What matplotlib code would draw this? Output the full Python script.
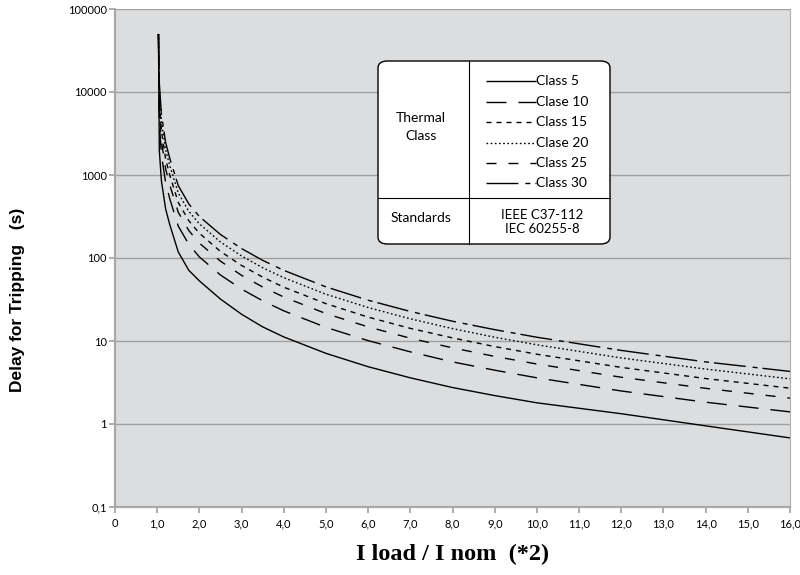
import matplotlib
matplotlib.use('Agg')
import matplotlib.pyplot as plt
from matplotlib.lines import Line2D
from matplotlib.patches import FancyBboxPatch

# load ratio (x axis) and tripping delay per class
current = [1.03, 1.05, 1.1, 1.2, 1.3, 1.5, 1.75, 2, 2.5, 3, 3.5, 4, 5, 6, 7, 8, 9, 10, 12, 14, 16]

class5 = [50000, 2000, 850, 390, 250, 118, 71, 53, 32, 21, 14.8, 11.2, 7.1, 4.9, 3.6, 2.75, 2.2, 1.8, 1.33, 0.95, 0.68]
class10 = [50000, 4250, 1755, 807, 513, 242, 146, 103, 62.4, 42.2, 30.5, 23.1, 14.6, 10.1, 7.4, 5.6, 4.45, 3.6, 2.5, 1.83, 1.4]
class15 = [50000, 6234, 2574, 1183, 753, 355, 214, 151, 91.6, 61.8, 44.7, 33.9, 21.4, 14.8, 10.8, 8.27, 6.52, 5.28, 3.66, 2.69, 2.05]
class20 = [50000, 8190, 3383, 1555, 989, 466, 281, 198.5, 120, 81.3, 58.8, 44.5, 28.2, 19.4, 14.2, 10.9, 8.57, 6.93, 4.81, 3.53, 2.7]
class25 = [50000, 10650, 4398, 2021, 1286, 606, 365, 258, 156, 105.7, 76.4, 57.9, 36.6, 25.3, 18.5, 14.1, 11.1, 9.0, 6.25, 4.59, 3.5]
class30 = [50000, 13060, 5393, 2479, 1577, 744, 448, 316, 192, 130, 93.7, 71, 44.9, 31, 22.7, 17.3, 13.7, 11.1, 7.7, 5.6, 4.3]

legendLabels = ['Class 5', 'Clase 10', 'Class 15', 'Clase 20', 'Class 25', 'Class 30']
xTicks = list(range(0, 17))
xTickLabels = ['0'] + ['{},0'.format(i) for i in range(1, 17)]
yTicks = [0.1, 1, 10, 100, 1000, 10000, 100000]
yTickLabels = ['0,1', '1', '10', '100', '1000', '10000', '100000']

plt.rcParams['lines.scale_dashes'] = False

solid = (0, ())
longDash = (0, (14.4, 8.6))
medDash = (0, (7.2, 8.6))
shortDash = (0, (3.6, 3.6))
dotted = (0, (1.2, 1.8))
dashDot = (0, (23, 5, 3.6, 3.6))

# styles as drawn on the curves (order from bottom curve to top curve)
curves = [(class5, solid), (class10, longDash), (class15, medDash),
          (class20, shortDash), (class25, dotted), (class30, dashDot)]
# styles as shown in the legend box
legendStyles = [solid, longDash, shortDash, dotted, medDash, dashDot]

W, H = 800, 575
fig = plt.figure(figsize=(W / 100, H / 100), dpi=100)


def fx(px):
    return px / W


def fy(py):
    return 1 - py / H


ax = fig.add_axes([fx(115), fy(507), (790 - 115) / W, (507 - 9) / H])
ax.set_facecolor('#dcdddf')

for values, style in curves:
    ax.plot(current, values, color='black', linewidth=1.0, linestyle=style)

ax.set_yscale('log')
ax.set_xlim(0, 16)
ax.set_ylim(0.1, 100000)
ax.set_xticks(xTicks)
ax.set_xticklabels(xTickLabels)
ax.set_yticks(yTicks)
ax.set_yticklabels(yTickLabels)
ax.minorticks_off()
ax.grid(axis='y', color='#a0a0a0', linewidth=1.0)
ax.set_axisbelow(True)

for side in ['left', 'bottom']:
    ax.spines[side].set_color('#a8a8a8')
    ax.spines[side].set_linewidth(1.6)
ax.spines['right'].set_color('#b0b0b0')
ax.spines['right'].set_linewidth(0.8)
ax.spines['top'].set_visible(False)

ax.tick_params(axis='both', direction='out', length=4, width=1.2, color='#a0a0a0',
               labelsize=8, pad=2)
for lab in ax.get_xticklabels() + ax.get_yticklabels():
    lab.set_family('Lato')
ax.tick_params(axis='x', pad=4)

fig.text(fx(18), fy(300), 'Delay for Tripping   (s)', rotation=90, ha='center', va='center',
         fontsize=12.5, fontweight='bold', family='Liberation Sans')
fig.text(fx(453), fy(554), 'I load / I nom  (*2)', ha='center', va='center',
         fontsize=17.5, fontweight='bold', family='Liberation Serif')

# legend table
box = FancyBboxPatch((fx(378), fy(244)), fx(610) - fx(378), fy(61) - fy(244),
                     boxstyle='round,pad=0,rounding_size=0.012', transform=fig.transFigure,
                     facecolor='white', edgecolor='black', linewidth=1.0, zorder=5)
fig.add_artist(box)
fig.add_artist(Line2D([fx(469), fx(469)], [fy(61), fy(244)], color='black', linewidth=0.8,
                      transform=fig.transFigure, zorder=6))
fig.add_artist(Line2D([fx(378), fx(610)], [fy(198), fy(198)], color='black', linewidth=0.8,
                      transform=fig.transFigure, zorder=6))

fig.text(fx(421), fy(127), 'Thermal\nClass', ha='center', va='center', fontsize=10,
         family='Lato', linespacing=1.5, zorder=7)
fig.text(fx(421), fy(218), 'Standards', ha='center', va='center', fontsize=10,
         family='Lato', zorder=7)
fig.text(fx(542), fy(222), 'IEEE C37-112\nIEC 60255-8', ha='center', va='center', fontsize=9.5,
         family='Lato', linespacing=1.25, zorder=7)

rowY = [81, 102, 122, 143, 163, 183]
for py, label, style in zip(rowY, legendLabels, legendStyles):
    fig.add_artist(Line2D([fx(486), fx(536)], [fy(py), fy(py)], color='black', linewidth=1.0,
                          linestyle=style, transform=fig.transFigure, zorder=6))
    fig.text(fx(536), fy(py), label, ha='left', va='center', fontsize=10, family='Lato', zorder=7)

fig.savefig('out.png', dpi=100)
